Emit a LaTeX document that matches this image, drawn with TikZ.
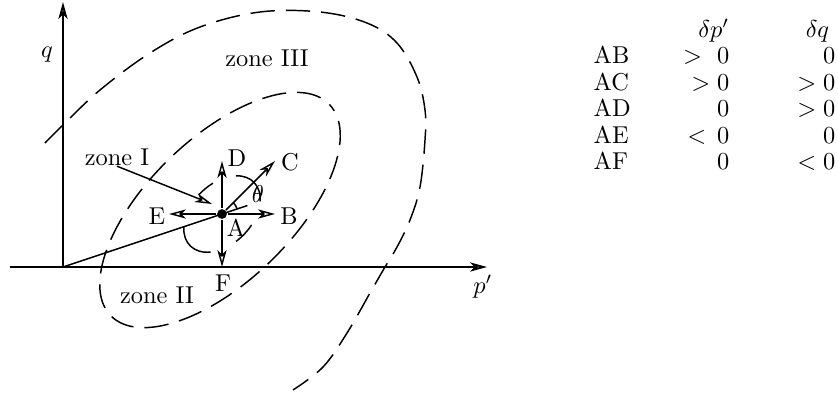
\documentclass[tikz,border=0pt]{standalone}
\usetikzlibrary{positioning, arrows.meta, calc}

\begin{document}
\begin{tikzpicture}[
    x=0.41pt, y=0.41pt, line width=0.6pt,
    arrow/.style={-{Stealth[open, length=7pt, width=3.8pt, inset=2pt]}},
    zone/.style={dash pattern=on 10pt off 4.5pt},
    lbl/.style={inner sep=0pt},
    cell/.style={inner sep=0pt}
]
  \useasboundingbox (-63,-128) rectangle (775,267);

  % axes
  \coordinate (O) at (0,0);
  \coordinate (qtop) at (0,265);
  \coordinate (pleft) at (-53,0);
  \coordinate (pright) at (424,0);
  \draw[arrow, line width=0.8pt] (O) -- (qtop);
  \draw[arrow, line width=0.8pt] (pleft) -- (pright);
  \node[lbl] (qlab) at (-16,212) {$q$};
  \node[lbl] (plab) at (420,-20) {$p'$};

  % yield zones
  \draw[zone] plot[smooth, tension=0.6] coordinates {
    (-18,124) (0,142) (37,177) (87,214) (137,240) (197,255) (257,255)
    (304,244) (334,224) (354,190) (362,157) (362,127) (357,80) (347,47)
    (334,20) (322,0) (307,-26) (284,-66) (260,-100) (230,-123)};
  \draw[zone, dash phase=10pt, rotate around={44:(157,57)}]
    (157,57) ellipse[x radius=152, y radius=72];
  \node[lbl] (zIII) at (204,209) {zone III};
  \node[lbl] (zII) at (94,-28) {zone II};

  % stress state A and its paths
  \node[circle, fill, inner sep=0pt, minimum size=4pt] (A) at (159,53) {};
  \begin{scope}[shift={(A)}, rotate=45]
    \foreach \a/\b in {-37/35, 70/93, 143/219, 258/287}
      \draw (\a:45 and 30) arc[start angle=\a, end angle=\b, x radius=45, y radius=30];
  \end{scope}
  \coordinate (B) at (212,53);
  \coordinate (C) at (212,106);
  \coordinate (D) at (159,106);
  \coordinate (E) at (106,53);
  \coordinate (F) at (159,0);
  \foreach \p in {B,C,D,E,F}
    \draw[arrow] (A) -- (\p);
  \coordinate (Aext) at ($(O)!1.16!(A)$);
  \draw (O) -- (Aext);
  \draw ($(A)+(18.4:16)$) arc[start angle=18.4, end angle=45, radius=16];

  \node[lbl] (lA) at (173,39) {A};
  \node[lbl] (lB) at (226,51) {B};
  \node[lbl] (lC) at (227,105) {C};
  \node[lbl] (lD) at (174,109) {D};
  \node[lbl] (lE) at (94,51) {E};
  \node[lbl] (lF) at (160,-16) {F};
  \node[lbl] (lth) at (195,73) {$\theta$};

  \node[lbl] (zI) at (54,110) {zone I};
  \coordinate (zItip) at (149,63);
  \draw[arrow] (zI.south) -- (zItip);

  % table of increments
  \node[cell, anchor=base east] (hp) at (667,230) {$\delta p'$};
  \node[cell, anchor=base east] (hq) at (767,230) {$\delta q$};
  \foreach \r/\u/\v [count=\i] in {AB/{$>\ 0$}/0, AC/{$>0$}/{$>0$},
      AD/0/{$>0$}, AE/{$<\,0$}/0, AF/0/{$<0$}} {
    \node[cell, anchor=base west] (t\r) at (530,{230-26.5*\i}) {\r};
    \node[cell, anchor=base east] (u\r) at (667,{230-26.5*\i}) {\u};
    \node[cell, anchor=base east] (v\r) at (773,{230-26.5*\i}) {\v};
  }
\end{tikzpicture}
\end{document}
